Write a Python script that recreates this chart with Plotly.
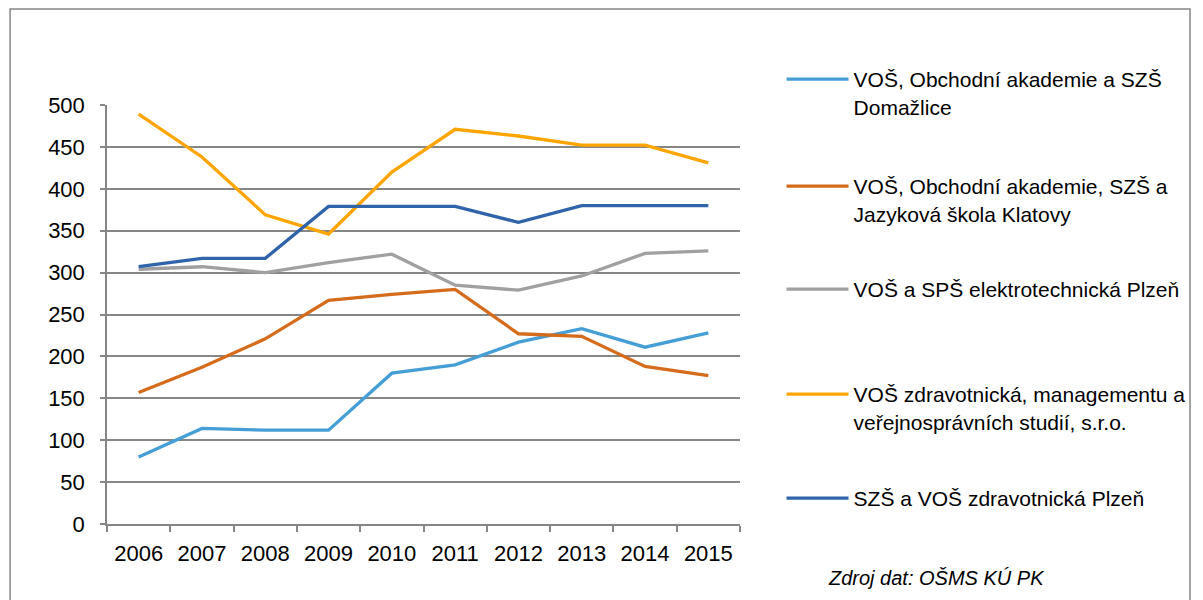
import plotly.graph_objects as go

years = ["2006", "2007", "2008", "2009", "2010", "2011", "2012", "2013", "2014", "2015"]

names = [
    "VOŠ, Obchodní akademie a SZŠ<br>Domažlice",
    "VOŠ, Obchodní akademie, SZŠ a<br>Jazyková škola Klatovy",
    "VOŠ a SPŠ elektrotechnická Plzeň",
    "VOŠ zdravotnická, managementu a<br>veřejnosprávních studií, s.r.o.",
    "SZŠ a VOŠ zdravotnická Plzeň",
]

domazlice = [80, 114, 112, 112, 180, 190, 217, 233, 211, 228]
klatovy = [157, 187, 221, 267, 274, 280, 227, 224, 188, 177]
elektro = [304, 307, 300, 312, 322, 285, 279, 296, 323, 326]
zdrav_mgmt = [489, 438, 369, 346, 420, 471, 463, 452, 452, 431]
szs_plzen = [307, 317, 317, 379, 379, 379, 360, 380, 380, 380]

series = [domazlice, klatovy, elektro, zdrav_mgmt, szs_plzen]
colors = ["#459FD6", "#D56B1C", "#A0A0A0", "#FFA500", "#2F63AA"]
legend_tops_px = [51, 158, 261, 366, 470]

# page body has an 8px margin, so figure coords = screen coords - 8
W, H = 1195, 592
L, R, T, B = 99, 739, 97, 516

def px_x(px):
    return (px - L) / (R - L)

def px_y(py):
    return (B - py) / (B - T)

FONT = "Liberation Sans, Arial, sans-serif"

fig = go.Figure()
layout_legends = {}
for i, (name, vals, col) in enumerate(zip(names, series, colors)):
    key = "legend" if i == 0 else f"legend{i + 1}"
    fig.add_trace(go.Scatter(
        x=years, y=vals, mode="lines", name=name,
        line=dict(color=col, width=3.3),
        legend=key,
    ))
    layout_legends[key] = dict(
        x=px_x(781), xanchor="left",
        y=px_y(legend_tops_px[i]), yanchor="top",
        bgcolor="rgba(0,0,0,0)", borderwidth=0,
        font=dict(family=FONT, size=21, color="#000000"),
        itemwidth=62, valign="top",
        tracegroupgap=0,
    )

fig.update_layout(
    width=W, height=H,
    margin=dict(l=L, r=W - R, t=T, b=H - B),
    paper_bgcolor="white", plot_bgcolor="white",
    font=dict(family=FONT, size=21, color="#000000"),
    showlegend=True,
    **layout_legends,
)

fig.update_xaxes(
    type="category", range=[-0.5, 9.5],
    tickson="boundaries", ticks="outside", ticklen=6, tickcolor="#868686", tickwidth=1.5,
    showline=True, linecolor="#868686", linewidth=1.5,
    showgrid=False, tickfont=dict(family=FONT, size=22, color="#000000"),
    ticklabelstandoff=9,
)
fig.update_yaxes(
    range=[0, 500], dtick=50, tick0=0,
    ticks="outside", ticklen=5, tickcolor="#868686", tickwidth=1.5,
    showline=True, linecolor="#868686", linewidth=1.5,
    showgrid=True, gridcolor="#868686", gridwidth=1.5,
    zeroline=False, tickfont=dict(family=FONT, size=22, color="#000000"),
    ticklabelstandoff=11,
)

# outer chart border
fig.add_shape(
    type="rect", xref="paper", yref="paper",
    x0=px_x(1), x1=px_x(1194), y0=px_y(610), y1=px_y(1),
    line=dict(color="#868686", width=1.5), fillcolor="rgba(0,0,0,0)", layer="below",
)

fig.add_annotation(
    text="<i>Zdroj dat: OŠMS KÚ PK</i>", xref="paper", yref="paper",
    x=px_x(826), y=px_y(570), xanchor="left", yanchor="middle",
    showarrow=False, font=dict(family=FONT, size=20, color="#000000"),
)

fig.write_html("out.html")
